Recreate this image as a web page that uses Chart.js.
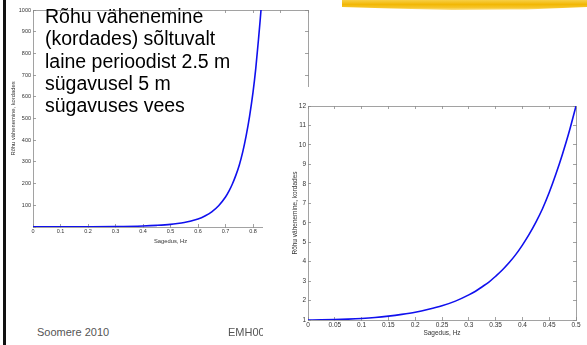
<!DOCTYPE html>
<html>
<head>
<meta charset="utf-8">
<script src="https://cdn.jsdelivr.net/npm/chart.js@4.4.1/dist/chart.umd.min.js"></script>
<style>
  html, body { margin: 0; padding: 0; background: #fff; }
  body { width: 587px; height: 345px; position: relative; overflow: hidden; font-family: "Liberation Sans", Arial, sans-serif; }
  #bar { position: absolute; left: 3px; top: 0; width: 3px; height: 345px; background: #111; }
  #stroke { position: absolute; left: 342px; top: 0; width: 245px; height: 10px;
    background: linear-gradient(180deg, #f7cf45 0%, #f2b705 45%, #f6c52a 75%, #fbe08a 100%);
    clip-path: polygon(0 0, 100% 0, 100% 70%, 75% 95%, 45% 100%, 20% 85%, 0 70%); }
  #wrapLeft { position: absolute; left: 0; top: 0; width: 330px; height: 260px; }
  #wrapRight { position: absolute; left: 263px; top: 87px; width: 324px; height: 258px; background: #fff; }
  #title { position: absolute; left: 45px; top: 5px; font-size: 19.5px; line-height: 22.3px; color: #000; }
  .foot { position: absolute; top: 326px; font-size: 11px; color: #555; }
</style>
</head>
<body>
<div id="bar"></div>
<div id="stroke"></div>
<div id="wrapLeft"><canvas id="chartLeft" width="330" height="260"></canvas></div>
<div id="title">Rõhu vähenemine<br>(kordades) sõltuvalt<br>laine perioodist 2.5 m<br>sügavusel 5 m<br>sügavuses vees</div>
<div class="foot" style="left:37px">Soomere 2010</div>
<div class="foot" style="left:228px">EMH00</div>
<div id="wrapRight"><canvas id="chartRight" width="324" height="258"></canvas></div>
<script>
// frequency (Hz) and pressure attenuation factor
var freqLeft = [0, 0.1, 0.2, 0.3, 0.4, 0.45, 0.5, 0.525, 0.55, 0.575, 0.6, 0.625, 0.65, 0.675, 0.7, 0.7125, 0.725, 0.7375, 0.75, 0.7625, 0.775, 0.7875, 0.8, 0.81, 0.82, 0.83, 0.835];
var factorLeft = [1, 1.1, 1.4, 2.3, 4.9, 7.6, 12, 16, 21, 28, 37, 51, 70, 98, 138, 165, 198, 238, 285, 345, 420, 510, 620, 730, 865, 1015, 1110];

var freqRight = [0, 0.025, 0.05, 0.075, 0.1, 0.125, 0.15, 0.175, 0.2, 0.225, 0.25, 0.275, 0.3, 0.3125, 0.325, 0.3375, 0.35, 0.3625, 0.375, 0.3875, 0.4, 0.4125, 0.425, 0.4375, 0.45, 0.4625, 0.475, 0.4875, 0.5];
var factorRight = [1, 1.005, 1.02, 1.045, 1.08, 1.13, 1.2, 1.29, 1.4, 1.55, 1.73, 1.97, 2.29, 2.48, 2.71, 2.95, 3.25, 3.57, 3.94, 4.36, 4.85, 5.4, 6.02, 6.72, 7.55, 8.5, 9.55, 10.7, 12.0];

var yLabel = 'Rõhu vähenemine, kordades';
var xLabel = 'Sagedus, Hz';

var axisColor = '#8a8a8a';
var textColor = '#333';

function toPoints(xs, ys) {
  var pts = [];
  for (var i = 0; i < xs.length; i++) pts.push({x: xs[i], y: ys[i]});
  return pts;
}

function fixSize(prop, val) {
  return function (scale) { scale[prop] = val; };
}

// matlab style labels: 0.05, 0.1, 0.15 ...
function shortNum(v) {
  return String(Math.round(v * 1000) / 1000);
}

function makeChart(canvas, xs, ys, o) {
  var tickFont = {family: 'Liberation Sans, Arial', size: o.tickSize};
  var titleFont = {family: 'Liberation Sans, Arial', size: o.titleSize};
  var gridCommon = {drawOnChartArea: false, drawTicks: true, tickLength: -3, color: axisColor, lineWidth: 0.8};
  return new Chart(canvas, {
    type: 'line',
    data: {
      datasets: [{
        data: toPoints(xs, ys),
        borderColor: '#1010ee',
        borderWidth: 1.6,
        pointRadius: 0,
        fill: false,
        cubicInterpolationMode: 'monotone'
      }]
    },
    options: {
      responsive: false,
      animation: false,
      events: [],
      layout: {padding: 0},
      plugins: {legend: {display: false}, tooltip: {enabled: false}},
      scales: {
        x: {
          type: 'linear', position: 'bottom', min: o.xMin, max: o.xMax,
          ticks: {stepSize: o.xStep, color: textColor, font: tickFont, padding: 4, maxRotation: 0, autoSkip: false,
            callback: shortNum},
          grid: gridCommon,
          border: {display: true, color: axisColor, width: 0.8},
          title: {display: true, text: xLabel, color: textColor, font: titleFont, padding: {top: 0, bottom: o.xTitlePad}},
          afterFit: fixSize('height', o.bottomH)
        },
        xTop: {
          type: 'linear', position: 'top', min: o.xMin, max: o.xMax,
          ticks: {stepSize: o.xStep, display: false},
          grid: gridCommon,
          border: {display: true, color: axisColor, width: 0.8},
          afterFit: fixSize('height', o.topH)
        },
        y: {
          type: 'linear', position: 'left', min: o.yMin, max: o.yMax,
          ticks: {stepSize: o.yStep, color: textColor, font: tickFont, padding: 5,
            callback: function (v) { return v === 0 ? '' : shortNum(v); }},
          grid: gridCommon,
          border: {display: true, color: axisColor, width: 0.8},
          title: {display: true, text: yLabel, color: textColor, font: titleFont, padding: {top: o.yTitlePad, bottom: 0}},
          afterFit: fixSize('width', o.leftW)
        },
        yRight: {
          type: 'linear', position: 'right', min: o.yMin, max: o.yMax,
          ticks: {stepSize: o.yStep, display: false},
          grid: gridCommon,
          border: {display: true, color: axisColor, width: 0.8},
          afterFit: fixSize('width', o.rightW)
        }
      }
    }
  });
}

makeChart(document.getElementById('chartLeft'), freqLeft, factorLeft, {
  xMin: 0, xMax: 1, xStep: 0.1, yMin: 0, yMax: 1000, yStep: 100,
  tickSize: 5.5, titleSize: 5.8,
  leftW: 33, rightW: 22, topH: 10, bottomH: 33,
  xTitlePad: 15, yTitlePad: 9.5
});

makeChart(document.getElementById('chartRight'), freqRight, factorRight, {
  xMin: 0, xMax: 0.5, xStep: 0.05, yMin: 1, yMax: 12, yStep: 1,
  tickSize: 6.5, titleSize: 6.5,
  leftW: 45, rightW: 11, topH: 19, bottomH: 25,
  xTitlePad: 8, yTitlePad: 28
});
</script>
</body>
</html>
